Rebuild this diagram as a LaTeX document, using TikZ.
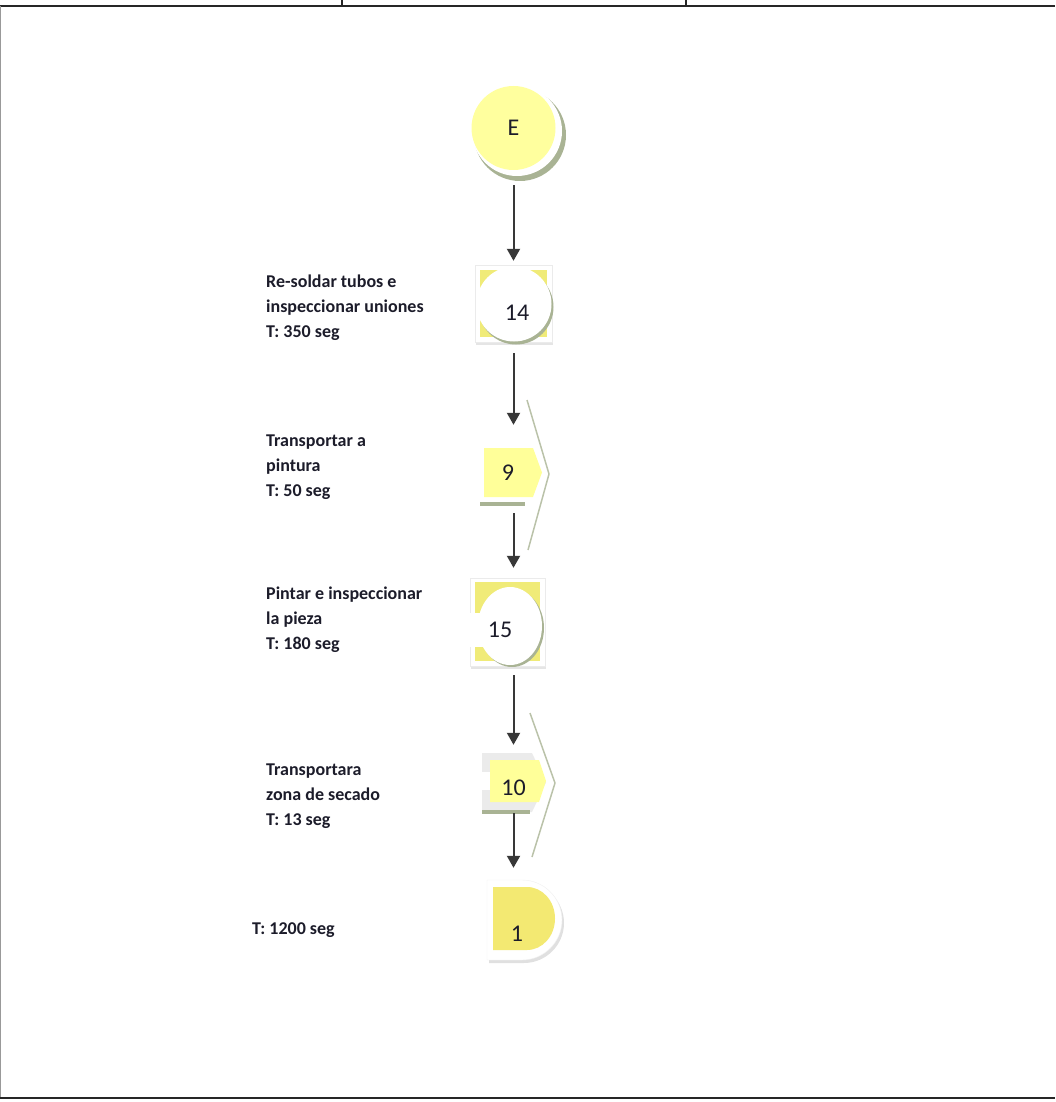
\documentclass[tikz,border=0pt]{standalone}
\usepackage{fontspec}
\setmainfont{Carlito}
\usetikzlibrary{arrows.meta}

\definecolor{amarilloE}{HTML}{FFFF9E}
\definecolor{amarilloC}{HTML}{F0EB78}
\definecolor{amarilloT}{HTML}{FFFF99}
\definecolor{amarilloD}{HTML}{F3E972}
\definecolor{sombra}{HTML}{A9B394}
\definecolor{tinta}{HTML}{1C1C2A}

\tikzset{
  flecha/.style={draw=black!78, line width=2pt, -{Triangle[length=12pt,width=13pt]}},
  texto/.style={anchor=west, align=left, inner sep=0pt, text=tinta, font=\fontsize{18}{25}\selectfont\bfseries},
  numero/.style={text=tinta, font=\fontsize{24}{28}\selectfont},
  simbolo/.style={inner sep=0pt, numero}
}

\begin{document}
\begin{tikzpicture}[x=1pt,y=-1pt]
    \useasboundingbox (0,0) rectangle (1055,1102);

    % Frame
    \draw [black!85, line width=2.5pt] (0,6) -- (1055,6);
    \draw [black!85, line width=2pt] (342,0) -- (342,6);
    \draw [black!85, line width=2pt] (686,0) -- (686,6);
    \draw [black!40, line width=0.8pt] (0.4,6) -- (0.4,1098);
    \draw [black!85, line width=2.5pt] (0,1098) -- (1055,1098);

    % Start E
    \fill [sombra] (520,135) circle (46);
    \fill [white] (517,131) circle (45);
    \node [simbolo, circle, fill=amarilloE, minimum size=84] (e) at (513.5,128) {E};

    % Operation 14
    \fill [black!10] (476,267) rectangle (553,345);
    \filldraw [fill=white, draw=black!8] (475,265) rectangle (552,342);
    \fill [amarilloC] (480,270) rectangle (547,337);
    \fill [sombra] (516,307) circle (37.5);
    \fill [white] (514,304) circle (37.5);
    \node [simbolo, minimum size=77, label={[numero,xshift=3.5pt,yshift=-9pt]center:14}] (p14) at (513.5,303.5) {};

    % Transport 9
    \draw [sombra!80, line width=1.5pt, line join=round] (527,400) -- (549,474) -- (528,550);
    \fill [amarilloT] (484,448) -- (533,448) -- (542,472.5) -- (533,497) -- (484,497) -- cycle;
    \fill [sombra] (480,502) rectangle (525,506);
    \node [simbolo, minimum width=58, minimum height=49, label={[numero,xshift=-5.5pt]center:9}] (t9) at (513.5,472.5) {};

    % Operation 15
    \fill [black!10] (471,580) rectangle (546,669);
    \filldraw [fill=white, draw=black!8] (470,578) rectangle (545,666);
    \fill [amarilloC] (475,582) rectangle (540,661);
    \fill [sombra] (512,628) ellipse (32 and 39);
    \fill [white] (510,626) ellipse (32 and 39);
    \fill [white] (470,613) rectangle (505,647);
    \node [simbolo, minimum width=75, minimum height=88, label={[numero,xshift=-7.5pt,yshift=-8pt]center:15}] (p15) at (507.5,622) {};

    % Transport 10
    \draw [sombra!80, line width=1.5pt, line join=round] (530,713) -- (555,783) -- (532,857);
    \fill [black!8] (482,753) -- (532,753) -- (546,782.5) -- (532,812) -- (482,812) -- cycle;
    \fill [amarilloT] (490,760) -- (539,760) -- (546,781) -- (539,802) -- (490,802) -- cycle;
    \fill [white] (482,772) rectangle (490,790);
    \fill [sombra] (482,810) rectangle (530,814);
    \node [simbolo, minimum width=62, minimum height=59, label={[numero,yshift=-5pt]center:10}] (t10) at (513.5,782.5) {};

    % Delay 1
    \fill [black!12] (489,883) -- (524,883) .. controls (546,883) and (564,901) .. (564,923)
        .. controls (564,945) and (546,963) .. (524,963) -- (489,963) -- cycle;
    \filldraw [fill=white, draw=black!6] (487,880) -- (522,880) .. controls (544,880) and (562,898) .. (562,920)
        .. controls (562,942) and (544,960) .. (522,960) -- (487,960) -- cycle;
    \fill [amarilloD] (493,887) -- (527,887) .. controls (542.5,887) and (555,901) .. (555,918.5)
        .. controls (555,936) and (542.5,950) .. (527,950) -- (493,950) -- cycle;
    \node [simbolo, minimum width=75, minimum height=80, label={[numero,xshift=-7.5pt,yshift=-14pt]center:1}] (d1) at (524.5,920) {};

    % Flow
    \draw [flecha, shorten <=15pt, shorten >=4pt] (e.south) -- (p14.north);
    \draw [flecha, shorten <=11pt, shorten >=23pt] (p14.south) -- (t9.north);
    \draw [flecha, shorten <=16pt, shorten >=10pt] (t9.south) -- (t9.south |- p15.north);
    \draw [flecha, shorten <=9pt, shorten >=8pt] (p15.south -| t10.north) -- (t10.north);
    \draw [flecha, shorten <=1pt, shorten >=12pt] (t10.south) -- (t10.south |- d1.north);

    % Descriptions
    \node [texto] (txt14) at (266,308) {Re-soldar tubos e\\inspeccionar uniones\\T: 350 seg};
    \node [texto] (txt9) at (266,467) {Transportar a\\pintura\\T: 50 seg};
    \node [texto] (txt15) at (266,620) {Pintar e inspeccionar\\la pieza\\T: 180 seg};
    \node [texto] (txt10) at (266,796) {Transportara\\zona de secado\\T: 13 seg};
    \node [texto] (txt1) at (252,930) {T: 1200 seg};
\end{tikzpicture}
\end{document}
